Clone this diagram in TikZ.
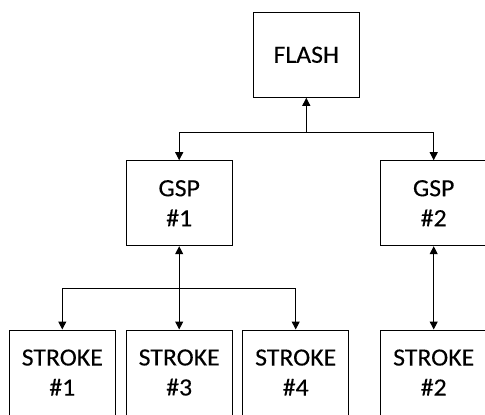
\documentclass[tikz,border=0pt]{standalone}
\usepackage{fontspec}
\setmainfont{Carlito}[FakeStretch=1.04,FakeBold=0.15]
\usetikzlibrary{arrows.meta}
\begin{document}
\begin{tikzpicture}[x=0.75pt,y=-0.75pt,
  box/.style={draw,line width=0.75pt,minimum width=106*0.75pt,minimum height=85*0.75pt,
    inner sep=0pt,align=center,font=\fontsize{18.6pt}{22.5pt}\selectfont},
  conn/.style={line width=0.75pt,-{Triangle[length=6pt,width=6pt]}},
  conn2/.style={line width=0.75pt,{Triangle[length=6pt,width=6pt]}-{Triangle[length=6pt,width=6pt]}}]
\useasboundingbox (0,0) rectangle (485,414);
\clip (0,0) rectangle (485,414);
\node[box] (flash) at (306.3,54.8) {FLASH};
\node[box] (gsp1) at (179.2,203.2) {GSP\\\#1};
\node[box] (gsp2) at (433.7,203.2) {GSP\\\#2};
\node[box] (s1) at (62.3,372.5) {STROKE\\\#1};
\node[box] (s3) at (179.2,372.5) {STROKE\\\#3};
\node[box] (s4) at (295.7,372.5) {STROKE\\\#4};
\node[box] (s2) at (433.7,372.5) {STROKE\\\#2};
\coordinate (j1) at (306.3,132.7);
\coordinate (j2) at (179.2,288.3);
\draw[conn] (j1) -- (flash.south);
\draw[conn] (j1) -| (gsp1.north);
\draw[conn] (j1) -| (gsp2.north);
\draw[conn2] (gsp1.south) -- (s3.north);
\draw[conn] (j2) -| (s1.north);
\draw[conn] (j2) -| (s4.north);
\draw[conn2] (gsp2.south) -- (s2.north);
\end{tikzpicture}
\end{document}
